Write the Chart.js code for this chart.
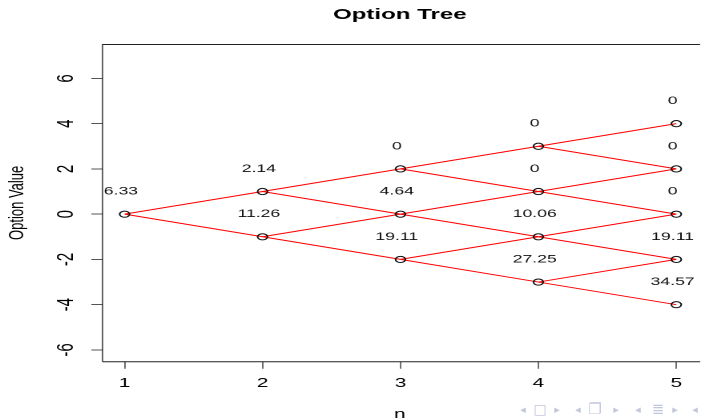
<!DOCTYPE html>
<html>
<head>
<meta charset="utf-8">
<script src="https://cdn.jsdelivr.net/npm/chart.js@4.4.1/dist/chart.umd.min.js"></script>
<style>
  html, body { margin: 0; padding: 0; background: #fff; width: 705px; height: 418px; overflow: hidden; }
  #wrap { position: absolute; left: 0; top: 0; width: 440px; height: 418px;
          transform: scaleX(1.602273); transform-origin: 0 0; }
  #c { width: 440px; height: 418px; display: block; }
  #nav { position: absolute; left: 0; top: 0; width: 705px; height: 418px; pointer-events: none; }
  #nav span { position: absolute; color: #c3c7dc; font-family: "DejaVu Sans"; line-height: 1;
              transform: translate(-50%, -50%); white-space: nowrap; }
</style>
</head>
<body>
<div id="wrap"><canvas id="c" width="440" height="418"></canvas></div>
<div id="nav"></div>
<script>
// Binomial option tree: time steps, lattice levels and the option value at each node
const steps = [1, 2, 3, 4, 5];
const nodeLevels = [
  [0],
  [1, -1],
  [2, 0, -2],
  [3, 1, -1, -3],
  [4, 2, 0, -2, -4]
];
const optionValues = [
  [6.33],
  [2.14, 11.26],
  [0, 4.64, 19.11],
  [0, 0, 10.06, 27.25],
  [0, 0, 0, 19.11, 34.57]
];
const yTickValues = [-6, -4, -2, 0, 2, 4, 6];
const xRange = [0.84, 5.15];
const yRange = [-6.52, 7.52];

// node markers
const nodePoints = [];
steps.forEach((s, i) => {
  nodeLevels[i].forEach((lv, j) => {
    nodePoints.push({ x: s, y: lv, value: optionValues[i][j] });
  });
});

// branches: each node goes up one level and down one level at the next step
const edgePoints = [];
for (let i = 0; i < steps.length - 1; i++) {
  const s = steps[i], t = steps[i + 1];
  nodeLevels[i].forEach(lv => {
    edgePoints.push({ x: s, y: lv }, { x: t, y: lv + 1 }, { x: null, y: null });
    edgePoints.push({ x: s, y: lv }, { x: t, y: lv - 1 }, { x: null, y: null });
  });
}

const FONT = '"Liberation Sans", Arial, sans-serif';

const frameAndLabels = {
  id: 'frameAndLabels',
  afterDatasetsDraw(chart) {
    const { ctx, chartArea: a, scales: { x, y } } = chart;
    ctx.save();
    // node values, one level above each node
    ctx.font = '11px ' + FONT;
    ctx.fillStyle = '#111';
    ctx.textAlign = 'center';
    ctx.textBaseline = 'middle';
    nodePoints.forEach(p => {
      ctx.fillText(String(p.value), x.getPixelForValue(p.x) - 2.3, y.getPixelForValue(p.y + 1));
    });
    // plot box
    ctx.strokeStyle = '#222';
    ctx.lineWidth = 1;
    ctx.beginPath();
    ctx.moveTo(a.left, a.top + 0.5); ctx.lineTo(a.right + 2, a.top + 0.5);
    ctx.moveTo(a.left, a.bottom); ctx.lineTo(a.right + 2, a.bottom);
    ctx.stroke();
    ctx.lineWidth = 0.7;
    ctx.beginPath();
    ctx.moveTo(a.left, a.top); ctx.lineTo(a.left, a.bottom);
    ctx.stroke();
    ctx.restore();
  }
};

new Chart(document.getElementById('c'), {
  type: 'scatter',
  data: {
    datasets: [
      {
        label: 'nodes',
        data: nodePoints,
        order: 0,
        showLine: false,
        pointRadius: 3.1,
        pointBorderWidth: 1,
        pointBorderColor: '#111',
        pointBackgroundColor: 'rgba(0,0,0,0)'
      },
      {
        label: 'branches',
        data: edgePoints,
        order: 1,
        showLine: true,
        spanGaps: false,
        borderColor: '#ff0000',
        borderWidth: 1,
        pointRadius: 0
      }
    ]
  },
  options: {
    responsive: false,
    devicePixelRatio: 2,
    animation: false,
    events: [],
    layout: { padding: 0 },
    plugins: {
      legend: { display: false },
      tooltip: { enabled: false },
      title: {
        display: true,
        text: 'Option Tree',
        fullSize: false,
        color: '#000',
        font: { family: FONT, size: 15, weight: 'bold', lineHeight: 1.2 },
        padding: { top: 6, bottom: 20 }
      }
    },
    scales: {
      x: {
        type: 'linear',
        min: xRange[0],
        max: xRange[1],
        afterBuildTicks: s => { s.ticks = steps.map(v => ({ value: v })); },
        afterFit: s => { s.height = 56.3; },
        border: { display: false },
        grid: { drawOnChartArea: false, drawTicks: true, tickLength: 7, tickColor: '#333', tickWidth: 0.7 },
        ticks: { color: '#000', font: { family: FONT, size: 13 }, padding: 7, maxRotation: 0, autoSkip: false },
        title: { display: true, text: 'n', color: '#000', font: { family: FONT, size: 13 }, padding: { top: 0, bottom: -4 } }
      },
      y: {
        type: 'linear',
        min: yRange[0],
        max: yRange[1],
        afterBuildTicks: s => { s.ticks = yTickValues.map(v => ({ value: v })); },
        afterFit: s => { s.width = 64; },
        border: { display: false },
        grid: { drawOnChartArea: false, drawTicks: true, tickLength: 7, tickColor: '#555', tickWidth: 1 },
        ticks: { color: '#000', font: { family: FONT, size: 15 }, padding: 9, minRotation: 90, maxRotation: 90, crossAlign: 'center', autoSkip: false },
        title: { display: true, text: 'Option Value', color: '#000', font: { family: FONT, size: 13 }, padding: { top: 3, bottom: 0 } }
      }
    }
  },
  plugins: [frameAndLabels]
});

// slide navigation symbols in the bottom-right corner
const navSymbols = [
  ['\u25C2', 523, 11], ['\u25A1', 540, 14], ['\u25B8', 557, 11],
  ['\u25C2', 578, 11], ['\u2750', 595, 15], ['\u25B8', 616, 11],
  ['\u25C2', 638, 11], ['\u2263', 658, 15], ['\u25B8', 675, 11],
  ['\u25C2', 695, 11]
];
const nav = document.getElementById('nav');
navSymbols.forEach(([ch, left, size]) => {
  const sp = document.createElement('span');
  sp.textContent = ch;
  sp.style.left = left + 'px';
  sp.style.top = '409px';
  sp.style.fontSize = size + 'px';
  nav.appendChild(sp);
});
</script>
</body>
</html>
